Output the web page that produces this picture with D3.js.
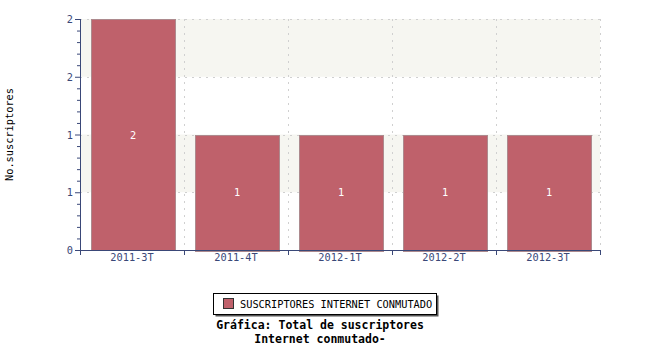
<!DOCTYPE html>
<html>
<head>
<meta charset="utf-8">
<script src="https://cdn.jsdelivr.net/npm/d3@7"></script>
<style>
  body { margin: 0; background: #fff; }
  text { font-family: "DejaVu Sans Mono", monospace; }
</style>
</head>
<body>
<svg width="650" height="350"></svg>
<script>
// Chart data
const categories = ["2011-3T", "2011-4T", "2012-1T", "2012-2T", "2012-3T"];
const suscriptores = [2, 1, 1, 1, 1];
const yTicks = [0, 0.5, 1, 1.5, 2];
const seriesName = "SUSCRIPTORES INTERNET CONMUTADO";
const titleLines = ["Gráfica: Total de suscriptores", "Internet conmutado-"];
const yTitle = "No.suscriptores";

const axisColor = "#3a4878";
const barColor = "#bf616b";

const margin = { top: 19, right: 50, bottom: 100, left: 80 };
const width = 650 - margin.left - margin.right;
const height = 350 - margin.top - margin.bottom;

const svg = d3.select("svg");
const g = svg.append("g")
  .attr("transform", `translate(${margin.left},${margin.top})`);

// Scales
const x = d3.scaleBand()
  .domain(categories)
  .range([0, width])
  .paddingInner(0.2)
  .paddingOuter(0.1);

const y = d3.scaleLinear()
  .domain([0, 2])
  .range([height, 0]);

// Alternating background bands
for (let i = 0; i < yTicks.length - 1; i++) {
  if (i % 2 === 1) {
    g.append("rect")
      .attr("x", 0)
      .attr("y", y(yTicks[i + 1]))
      .attr("width", width)
      .attr("height", y(yTicks[i]) - y(yTicks[i + 1]))
      .attr("fill", "#f6f6f1");
  }
}

// Category boundaries
const half = (x.step() - x.bandwidth()) / 2;
const bounds = categories.map(c => x(c) - half).concat([width]);

// Grid lines
g.selectAll(".hgrid")
  .data(yTicks.slice(1))
  .join("line")
  .attr("x1", 0).attr("x2", width)
  .attr("y1", d => Math.round(y(d)) + 0.5)
  .attr("y2", d => Math.round(y(d)) + 0.5)
  .attr("stroke", "#d0d0d0")
  .attr("stroke-dasharray", "2,5");

g.selectAll(".vgrid")
  .data(bounds.slice(1))
  .join("line")
  .attr("x1", d => Math.round(d) + 0.5).attr("x2", d => Math.round(d) + 0.5)
  .attr("y1", 0).attr("y2", height)
  .attr("stroke", "#d0d0d0")
  .attr("stroke-dasharray", "2,5");

// Bars
g.selectAll(".bar")
  .data(suscriptores)
  .join("rect")
  .attr("x", (d, i) => Math.ceil(x(categories[i])) + 0.5)
  .attr("y", d => Math.round(y(d)) + 0.5)
  .attr("width", Math.ceil(x.bandwidth()))
  .attr("height", d => Math.round(height - y(d)))
  .attr("fill", barColor)
  .attr("stroke", "#ad8a8e");

// Bar value labels
g.selectAll(".val")
  .data(suscriptores)
  .join("text")
  .attr("x", (d, i) => x(categories[i]) + x.bandwidth() / 2 + 1)
  .attr("y", d => (y(d) + height) / 2 + 4)
  .attr("text-anchor", "middle")
  .attr("fill", "#ffffff")
  .style("font-size", "10.3px")
  .text(d => Math.round(d));

// Y axis
const yAxis = g.append("g")
  .call(d3.axisLeft(y)
    .tickValues(d3.range(0, 2.0001, 0.1))
    .tickSize(3)
    .tickFormat(""));
yAxis.selectAll(".tick")
  .filter(d => yTicks.some(t => Math.abs(t - d) < 1e-6))
  .select("line").attr("x2", -5);
yAxis.selectAll("path").attr("d", `M0.5,0V${height}`);
yAxis.selectAll("path, line").attr("stroke", axisColor);

g.selectAll(".ylab")
  .data(yTicks)
  .join("text")
  .attr("x", -7)
  .attr("y", d => y(d) + 4)
  .attr("text-anchor", "end")
  .attr("fill", axisColor)
  .style("font-size", "10.3px")
  .text(d => Math.round(d));

// X axis
const xAxis = g.append("g")
  .attr("transform", `translate(0,${height})`)
  .call(d3.axisBottom(x).tickSize(0).tickPadding(4));
xAxis.select("path").attr("d", `M0,0.5H${width}`).attr("stroke", axisColor);
xAxis.selectAll("text")
  .attr("fill", axisColor)
  .style("font-family", "DejaVu Sans Mono, monospace")
  .style("font-size", "10.3px");

xAxis.selectAll(".xtick")
  .data(bounds)
  .join("line")
  .attr("x1", d => Math.round(d) + 0.5).attr("x2", d => Math.round(d) + 0.5)
  .attr("y1", 0).attr("y2", 5)
  .attr("stroke", axisColor);

// Y axis title
svg.append("text")
  .attr("transform", `translate(13,${margin.top + height / 2}) rotate(-90)`)
  .attr("text-anchor", "middle")
  .style("font-size", "10.3px")
  .attr("fill", "#000")
  .text(yTitle);

// Legend
const legend = svg.append("g").attr("transform", "translate(213,293)");
legend.append("rect")
  .attr("x", 2.5).attr("y", 2.5)
  .attr("width", 223).attr("height", 21)
  .attr("fill", "#555");
legend.append("rect")
  .attr("x", 0.5).attr("y", 0.5)
  .attr("width", 223).attr("height", 21)
  .attr("fill", "#fff")
  .attr("stroke", "#000");
legend.append("rect")
  .attr("x", 10.5).attr("y", 5.5)
  .attr("width", 10).attr("height", 10)
  .attr("fill", barColor)
  .attr("stroke", "#333");
legend.append("text")
  .attr("x", 27)
  .attr("y", 15)
  .style("font-size", "10.3px")
  .text(seriesName);

// Title
svg.selectAll(".title")
  .data(titleLines)
  .join("text")
  .attr("x", 320)
  .attr("y", (d, i) => 329 + i * 14)
  .attr("text-anchor", "middle")
  .style("font-size", "11.5px")
  .style("font-weight", "bold")
  .text(d => d);
</script>
</body>
</html>
